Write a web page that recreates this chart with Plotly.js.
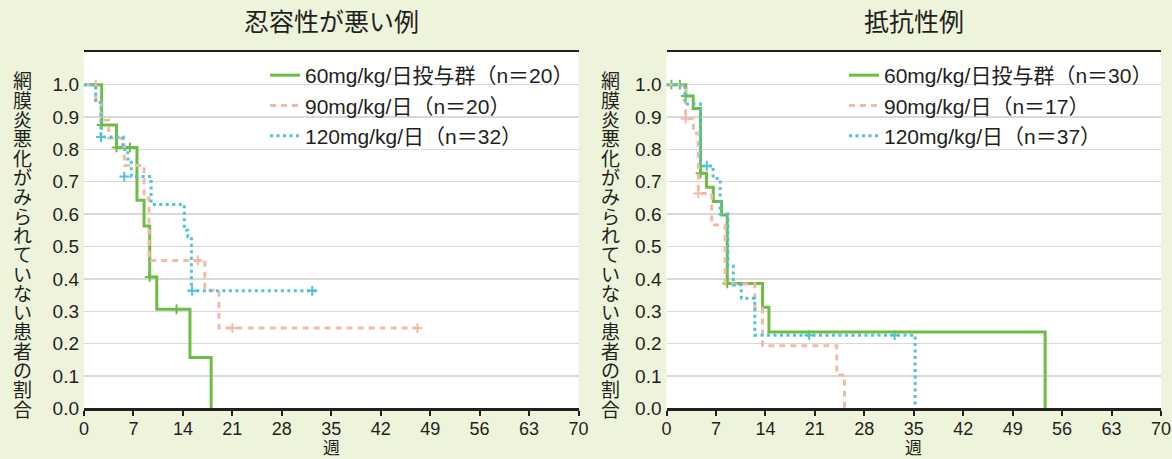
<!DOCTYPE html>
<html><head><meta charset="utf-8">
<script src="https://cdn.plot.ly/plotly-3.0.1.min.js"></script>
<style>html,body{margin:0;padding:0;background:#eef4dc;} #chart{width:1172px;height:459px;}</style>
</head><body><div id="chart"></div>
<script>
// ---------- text ----------
const panelTitles = ['忍容性が悪い例', '抵抗性例'];
const namesLeft  = ['60mg/kg/日投与群（n＝20）', '90mg/kg/日（n＝20）', '120mg/kg/日（n＝32）'];
const namesRight = ['60mg/kg/日投与群（n＝30）', '90mg/kg/日（n＝17）', '120mg/kg/日（n＝37）'];
const yLabel = '網膜炎悪化がみられていない患者の割合';
const xLabel = '週';
const xTickVals = [0, 7, 14, 21, 28, 35, 42, 49, 56, 63, 70];
const yTickVals = [0, 0.1, 0.2, 0.3, 0.4, 0.5, 0.6, 0.7, 0.8, 0.9, 1.0];
const yTickText = ['0.0', '0.1', '0.2', '0.3', '0.4', '0.5', '0.6', '0.7', '0.8', '0.9', '1.0'];

// ---------- left panel: 忍容性が悪い例 (weeks, survival) ----------
const tol60_t = [0, 2.5, 4.6, 7.5, 8.5, 9.3, 10.3, 15.0, 18.0];
const tol60_s = [1, 0.875, 0.806, 0.643, 0.563, 0.406, 0.306, 0.157, 0];
const tol60_ct = [2.5, 4.6, 6.5, 9.3, 13.1];
const tol60_cs = [0.875, 0.806, 0.806, 0.406, 0.306];

const tol90_t = [0, 1.66, 2.4, 3.5, 5.7, 8.5, 9.2, 17.1, 19.1, 47.5];
const tol90_s = [1, 0.955, 0.89, 0.835, 0.75, 0.65, 0.457, 0.365, 0.248, 0.248];
const tol90_ct = [1.66, 16.1, 21.0, 47.2];
const tol90_cs = [1.0, 0.457, 0.248, 0.248];

const tol120_t = [0, 1.66, 2.4, 5.5, 6.2, 6.7, 9.5, 14.2, 14.7, 15.2, 33.0];
const tol120_s = [1, 0.945, 0.838, 0.80, 0.77, 0.716, 0.63, 0.55, 0.53, 0.363, 0.363];
const tol120_ct = [2.4, 5.7, 15.3, 32.3];
const tol120_cs = [0.838, 0.716, 0.363, 0.363];

// ---------- right panel: 抵抗性例 ----------
const res60_t = [0, 2.74, 3.78, 4.82, 5.67, 6.62, 7.8, 8.6, 13.6, 14.5, 53.6];
const res60_s = [1, 0.965, 0.926, 0.726, 0.683, 0.639, 0.597, 0.386, 0.312, 0.236, 0];
const res60_ct = [0.7, 1.9, 2.74, 4.82, 8.6];
const res60_cs = [1.0, 1.0, 0.965, 0.726, 0.386];

const res90_t = [0, 2.7, 3.8, 4.5, 6.4, 8.3, 12.5, 13.6, 24.1, 25.2];
const res90_s = [1, 0.895, 0.85, 0.664, 0.566, 0.384, 0.31, 0.193, 0.103, 0];
const res90_ct = [2.7, 4.5];
const res90_cs = [0.895, 0.664];

const res120_t = [0, 2.6, 4.8, 6.6, 7.6, 8.7, 9.45, 10.6, 12.5, 35.2];
const res120_s = [1, 0.94, 0.749, 0.71, 0.60, 0.44, 0.381, 0.34, 0.226, 0];
const res120_ct = [5.7, 20.2, 32.3];
const res120_cs = [0.749, 0.226, 0.226];

// ---------- styles ----------
const FONT = '"Liberation Sans", Arial, "Noto Sans CJK JP", sans-serif';
const TXT = '#231f20';
const BG = '#eef4dc';
const styles = [
  {color: '#6dbd45', dash: 'solid'},
  {color: '#f3bba6', dash: '6px,5px'},
  {color: '#4fc4d2', dash: '3px,3.5px'}
];

function stepTrace(t, s, name, st, xa, ya, leg) {
  return {x: t, y: s, type: 'scatter', mode: 'lines', name: name,
    line: {shape: 'hv', color: st.color, width: 3, dash: st.dash},
    xaxis: xa, yaxis: ya, legend: leg, legendgroup: leg + name, hoverinfo: 'skip'};
}
function censorTrace(t, s, st, xa, ya) {
  return {x: t, y: s, type: 'scatter', mode: 'markers', showlegend: false,
    marker: {symbol: 'cross-thin', size: 7, color: st.color, line: {color: st.color, width: 2}},
    xaxis: xa, yaxis: ya, hoverinfo: 'skip'};
}

const left = [[tol60_t, tol60_s, tol60_ct, tol60_cs], [tol90_t, tol90_s, tol90_ct, tol90_cs], [tol120_t, tol120_s, tol120_ct, tol120_cs]];
const right = [[res60_t, res60_s, res60_ct, res60_cs], [res90_t, res90_s, res90_ct, res90_cs], [res120_t, res120_s, res120_ct, res120_cs]];

const data = [];
left.forEach((d, i) => data.push(censorTrace(d[2], d[3], styles[i], 'x', 'y')));
right.forEach((d, i) => data.push(censorTrace(d[2], d[3], styles[i], 'x2', 'y2')));
left.forEach((d, i) => data.push(stepTrace(d[0], d[1], namesLeft[i], styles[i], 'x', 'y', 'legend')));
right.forEach((d, i) => data.push(stepTrace(d[0], d[1], namesRight[i], styles[i], 'x2', 'y2', 'legend2')));

const W = 1172, H = 459;
const yDom = [(H - 408.3) / H, (H - 52.3) / H];
const dom1 = [84 / W, 578.5 / W];
const dom2 = [666.5 / W, 1161 / W];

function xAxis(dom, anchor) {
  return {domain: dom, anchor: anchor, range: [0, 70], tickvals: xTickVals,
    ticks: 'outside', ticklen: 5, tickwidth: 2, tickcolor: TXT,
    showline: true, linecolor: TXT, linewidth: 2.5, mirror: true,
    showgrid: false, zeroline: false, ticklabelstandoff: -2,
    tickfont: {size: 18, color: TXT, family: FONT}};
}
function yAxis(anchor) {
  return {domain: yDom, anchor: anchor, range: [0, 1.1], tickvals: yTickVals, ticktext: yTickText,
    showline: false, ticks: '', showgrid: true, gridcolor: '#d9d9d9', gridwidth: 1.3,
    zeroline: false, tickfont: {size: 19, color: TXT, family: FONT}, ticklabelstandoff: 4};
}

const annotations = [];
[dom1, dom2].forEach((dom, k) => {
  annotations.push({text: panelTitles[k], xref: 'paper', yref: 'paper', x: (dom[0] + dom[1]) / 2,
    y: 1 - 22 / H, xanchor: 'center', yanchor: 'middle', showarrow: false,
    font: {size: 25, color: TXT, family: FONT}});
  annotations.push({text: xLabel, xref: 'paper', yref: 'paper', x: (dom[0] + dom[1]) / 2,
    y: 1 - 448 / H, xanchor: 'center', yanchor: 'middle', showarrow: false,
    font: {size: 17, color: TXT, family: FONT}});
});
const labelX = [22, 610];
const chars = Array.from(yLabel);
labelX.forEach(px => {
  chars.forEach((c, i) => {
    annotations.push({text: c, xref: 'paper', yref: 'paper', x: px / W, y: 1 - (82 + i * 19.3) / H,
      xanchor: 'center', yanchor: 'middle', showarrow: false,
      font: {size: 19, color: TXT, family: FONT}});
  });
});

const legendBase = {bgcolor: 'rgba(0,0,0,0)', borderwidth: 0, font: {size: 21, color: TXT, family: FONT},
  xanchor: 'left', yanchor: 'top', tracegroupgap: 1, traceorder: 'normal'};

const layout = {
  width: W, height: H, paper_bgcolor: BG, plot_bgcolor: '#ffffff',
  margin: {l: 0, r: 0, t: 0, b: 0}, showlegend: true,
  font: {family: FONT, color: TXT, size: 18},
  xaxis: xAxis(dom1, 'y'), yaxis: yAxis('x'),
  xaxis2: xAxis(dom2, 'y2'), yaxis2: yAxis('x2'),
  legend: Object.assign({}, legendBase, {x: 265 / W, y: 1 - 55 / H}),
  legend2: Object.assign({}, legendBase, {x: 844 / W, y: 1 - 55 / H}),
  annotations: annotations
};

Plotly.newPlot('chart', data, layout, {displayModeBar: false, staticPlot: true});
</script></body></html>
